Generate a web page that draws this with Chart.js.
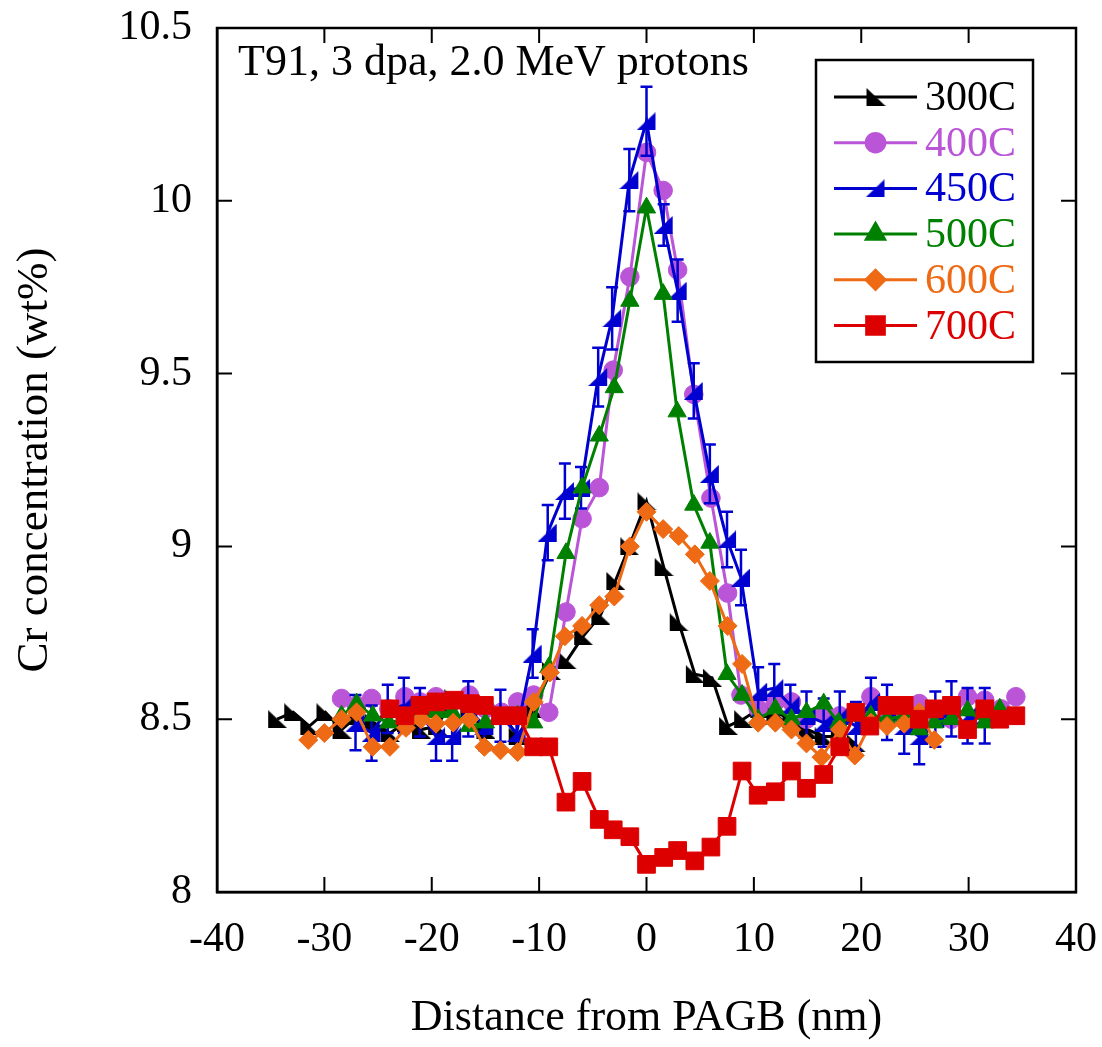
<!DOCTYPE html>
<html>
<head>
<meta charset="utf-8">
<title>Cr concentration profile</title>
<script src="https://cdn.jsdelivr.net/npm/chart.js@4.4.1/dist/chart.umd.min.js"></script>
<style>
  html, body { margin: 0; padding: 0; background: #fff; }
</style>
</head>
<body>
<canvas id="myChart" width="1102" height="1047"></canvas>
<script>
// distance from PAGB (nm) and Cr (wt%) for each irradiation temperature
const x300 = [-34.4,-32.9,-31.4,-29.9,-28.4,-26.9,-25.4,-23.9,-22.4,-21.0,-19.5,-18.0,-16.5,-15.0,-13.5,-12.0,-10.5,-8.9,-7.4,-5.9,-4.3,-2.9,-1.6,0,1.6,3.0,4.5,6.1,7.6,9.0,10.5,12.0,13.5,15.0,16.5,18.0,19.5];
const cr300 = [8.50,8.52,8.48,8.52,8.47,8.51,8.49,8.46,8.49,8.47,8.48,8.56,8.52,8.47,8.52,8.45,8.53,8.64,8.67,8.74,8.80,8.90,9.00,9.13,8.94,8.78,8.63,8.62,8.48,8.50,8.53,8.52,8.50,8.47,8.45,8.45,8.43];

const x400 = [-28.4,-27.0,-25.6,-24.0,-22.5,-21.1,-19.6,-18.1,-16.5,-15.0,-13.5,-12.0,-10.5,-9.1,-7.5,-6.0,-4.4,-3.1,-1.55,0,1.55,2.9,4.4,6.0,7.55,8.8,10.4,12.0,13.5,14.9,16.5,18.0,19.5,20.9,22.4,24.0,25.4,26.9,28.4,29.9,31.5,33.0,34.4];
const cr400 = [8.56,8.54,8.56,8.53,8.565,8.55,8.565,8.55,8.57,8.53,8.52,8.55,8.57,8.52,8.81,9.08,9.17,9.51,9.78,10.14,10.03,9.80,9.44,9.14,8.865,8.57,8.53,8.55,8.55,8.50,8.52,8.51,8.52,8.565,8.52,8.50,8.545,8.52,8.50,8.565,8.555,8.53,8.565];

const x450 = [-27.1,-25.6,-24.1,-22.6,-21.1,-19.6,-18.1,-16.6,-15.1,-13.6,-12.1,-10.6,-9.2,-7.6,-6.1,-4.5,-3.2,-1.6,0,1.6,2.9,4.4,5.9,7.5,8.8,10.4,11.9,13.4,14.9,16.5,18.0,19.5,20.9,22.4,24.0,25.4,26.9,28.4,29.9,31.5];
const cr450 = [8.49,8.46,8.53,8.54,8.52,8.45,8.45,8.53,8.48,8.51,8.46,8.69,9.04,9.16,9.17,9.49,9.66,10.06,10.23,9.93,9.74,9.45,9.21,9.02,8.91,8.58,8.59,8.54,8.51,8.49,8.51,8.48,8.55,8.52,8.48,8.45,8.50,8.53,8.51,8.51];
const err450 = [0.08,0.08,0.07,0.08,0.07,0.07,0.07,0.08,0.07,0.075,0.06,0.07,0.08,0.08,0.06,0.085,0.09,0.09,0.1,0.06,0.09,0.08,0.085,0.08,0.08,0.07,0.07,0.06,0.07,0.07,0.07,0.07,0.07,0.08,0.08,0.08,0.08,0.08,0.08,0.08];

const x500 = [-28.4,-27.0,-25.5,-24.0,-22.5,-21.1,-19.6,-18.1,-16.5,-15.0,-13.5,-12.0,-10.5,-9.1,-7.5,-6.0,-4.4,-3.0,-1.55,0,1.55,2.85,4.4,5.9,7.5,8.9,10.4,12.0,13.5,14.9,16.5,17.9,19.5,20.9,22.4,24.0,25.4,26.8,28.4,29.9,31.5,32.9];
const cr500 = [8.51,8.545,8.51,8.49,8.50,8.52,8.52,8.52,8.48,8.49,8.50,8.51,8.49,8.65,8.98,9.17,9.32,9.46,9.71,9.98,9.73,9.39,9.12,9.01,8.63,8.57,8.50,8.53,8.50,8.52,8.545,8.49,8.51,8.51,8.50,8.51,8.47,8.49,8.50,8.525,8.49,8.53];

const x600 = [-31.5,-30.0,-28.4,-27.0,-25.5,-23.9,-22.4,-21.0,-19.6,-18.0,-16.5,-15.1,-13.6,-12.0,-10.5,-9.0,-7.6,-6.0,-4.4,-3.0,-1.55,0,1.55,3.0,4.5,5.9,7.55,8.9,10.4,12.0,13.5,14.9,16.3,18.0,19.4,20.9,22.4,24.0,25.4,26.8];
const cr600 = [8.44,8.46,8.50,8.52,8.42,8.42,8.475,8.50,8.487,8.49,8.50,8.42,8.41,8.405,8.55,8.635,8.74,8.77,8.83,8.855,9.00,9.10,9.05,9.03,8.977,8.90,8.77,8.66,8.49,8.49,8.47,8.43,8.39,8.47,8.395,8.49,8.48,8.487,8.52,8.44];

const x700 = [-23.9,-22.5,-21.1,-19.6,-17.9,-16.4,-15.1,-13.6,-12.0,-10.5,-9.1,-7.5,-6.0,-4.4,-3.1,-1.55,0,1.6,2.9,4.5,6.0,7.5,8.9,10.4,12.0,13.5,14.9,16.5,18.0,19.5,20.8,22.4,24.0,25.4,26.8,28.4,29.9,31.5,32.9,34.4];
const cr700 = [8.53,8.51,8.54,8.55,8.555,8.545,8.54,8.51,8.51,8.42,8.42,8.26,8.32,8.21,8.18,8.16,8.08,8.10,8.12,8.09,8.13,8.19,8.35,8.28,8.29,8.35,8.30,8.34,8.42,8.52,8.48,8.54,8.54,8.50,8.53,8.54,8.47,8.53,8.50,8.51];

const xTicks = [-40,-30,-20,-10,0,10,20,30,40];
const yTicks = [8,8.5,9,9.5,10,10.5];

const FONT = "'Liberation Serif', 'Times New Roman', Times, serif";

// right-angle triangle markers (not built in)
function rightTri(color, mirror) {
  const c = document.createElement('canvas');
  c.width = 20; c.height = 18;
  const g = c.getContext('2d');
  g.fillStyle = color;
  g.beginPath();
  if (!mirror) {        // like ◣
    g.moveTo(1, 0); g.lineTo(1, 18); g.lineTo(20, 18);
  } else {              // like ◢
    g.moveTo(19, 0); g.lineTo(19, 18); g.lineTo(0, 18);
  }
  g.closePath();
  g.fill();
  return c;
}

const pts = (xs, ys) => xs.map((v, i) => ({x: v, y: ys[i]}));

function series(label, xs, ys, color, style, radius, order) {
  return {
    label: label,
    data: pts(xs, ys),
    borderColor: color,
    backgroundColor: color,
    borderWidth: 3,
    pointStyle: style,
    pointRadius: radius,
    pointBorderWidth: 1,
    pointBorderColor: color,
    pointBackgroundColor: color,
    tension: 0,
    order: order
  };
}

const datasets = [
  series('300C', x300, cr300, '#000000', rightTri('#000000', false), 10, 5),
  series('400C', x400, cr400, '#BB55D8', 'circle', 9.3, 4),
  series('450C', x450, cr450, '#0000D0', rightTri('#0000D0', true), 10, 3),
  series('500C', x500, cr500, '#008000', 'triangle', 10.5, 2),
  series('600C', x600, cr600, '#EE6A14', 'rectRot', 9.5, 1),
  series('700C', x700, cr700, '#DD0000', 'rect', 12.5, 0)
];

// vertical error bars for the 450C profile
const errorBars = {
  id: 'errorBars',
  beforeDatasetDraw(chart, args) {
    if (args.index !== 2) return;
    const ctx = chart.ctx, xs = chart.scales.x, ys = chart.scales.y;
    ctx.save();
    ctx.strokeStyle = '#0000D0';
    ctx.lineWidth = 2.5;
    x450.forEach((xv, i) => {
      const px = xs.getPixelForValue(xv);
      const t = ys.getPixelForValue(cr450[i] + err450[i]);
      const b = ys.getPixelForValue(cr450[i] - err450[i]);
      ctx.beginPath();
      ctx.moveTo(px, t); ctx.lineTo(px, b);
      ctx.moveTo(px - 6, t); ctx.lineTo(px + 6, t);
      ctx.moveTo(px - 6, b); ctx.lineTo(px + 6, b);
      ctx.stroke();
    });
    ctx.restore();
  }
};

// frame, inward ticks, note and legend
const decor = {
  id: 'decor',
  afterDraw(chart) {
    const ctx = chart.ctx, a = chart.chartArea;
    const xs = chart.scales.x, ys = chart.scales.y;
    ctx.save();
    ctx.strokeStyle = '#000';
    ctx.lineWidth = 2.5;
    ctx.strokeRect(a.left, a.top, a.right - a.left, a.bottom - a.top);
    ctx.lineWidth = 2;
    ctx.beginPath();
    xTicks.forEach(v => {
      const px = xs.getPixelForValue(v);
      ctx.moveTo(px, a.bottom); ctx.lineTo(px, a.bottom - 15);
      ctx.moveTo(px, a.top); ctx.lineTo(px, a.top + 15);
    });
    yTicks.forEach(v => {
      const py = ys.getPixelForValue(v);
      ctx.moveTo(a.left, py); ctx.lineTo(a.left + 15, py);
      ctx.moveTo(a.right, py); ctx.lineTo(a.right - 15, py);
    });
    ctx.stroke();

    ctx.fillStyle = '#000';
    ctx.font = '44px ' + FONT;
    ctx.textAlign = 'left';
    ctx.textBaseline = 'alphabetic';
    ctx.fillText('T91, 3 dpa, 2.0 MeV protons', 238, 75);

    // legend box
    ctx.lineWidth = 2.5;
    ctx.strokeRect(816, 60, 217, 302);
    chart.data.datasets.forEach((ds, i) => {
      const cy = 97 + i * 45.7;
      ctx.strokeStyle = ds.borderColor;
      ctx.lineWidth = 3;
      ctx.beginPath();
      ctx.moveTo(834, cy); ctx.lineTo(917, cy);
      ctx.stroke();
      ctx.beginPath();
      Chart.helpers.drawPoint(ctx, {
        pointStyle: ds.pointStyle, rotation: 0, radius: ds.pointRadius, borderWidth: 1
      }, 875.5, cy);
      ctx.fillStyle = ds.borderColor;
      ctx.fill();
      ctx.font = '42px ' + FONT;
      ctx.textBaseline = 'middle';
      ctx.fillText(ds.label, 925, cy + 2);
    });
    ctx.restore();
  }
};

const tickFont = {family: FONT, size: 42};

let mychart = new Chart(document.getElementById('myChart'), {
  type: 'line',
  data: { datasets: datasets },
  plugins: [errorBars, decor],
  options: {
    responsive: false,
    animation: false,
    layout: { padding: { left: 0, top: 28, right: 26, bottom: 0 } },
    plugins: { legend: { display: false }, tooltip: { enabled: false } },
    scales: {
      x: {
        type: 'linear', min: -40, max: 40,
        afterBuildTicks: s => { s.ticks = xTicks.map(v => ({value: v})); },
        ticks: { font: tickFont, color: '#000', padding: 23, maxRotation: 0, callback: v => String(v) },
        grid: { display: false, drawTicks: false },
        border: { color: '#000', width: 2.5 },
        title: { display: true, text: 'Distance from PAGB (nm)', color: '#000', font: {family: FONT, size: 44}, padding: { top: 0, bottom: 2 } },
        afterFit: s => { s.height = 155; s.paddingLeft = 0; s.paddingRight = 0; }
      },
      y: {
        type: 'linear', min: 8, max: 10.5,
        afterBuildTicks: s => { s.ticks = yTicks.map(v => ({value: v})); },
        ticks: { font: tickFont, color: '#000', padding: 25, callback: v => String(v) },
        grid: { display: false, drawTicks: false },
        border: { color: '#000', width: 2.5 },
        title: { display: true, text: 'Cr concentration (wt%)', color: '#000', font: {family: FONT, size: 45}, padding: { top: 8, bottom: 0 } },
        afterFit: s => { s.width = 217; s.paddingTop = 0; s.paddingBottom = 0; }
      }
    }
  }
});
</script>
</body>
</html>
